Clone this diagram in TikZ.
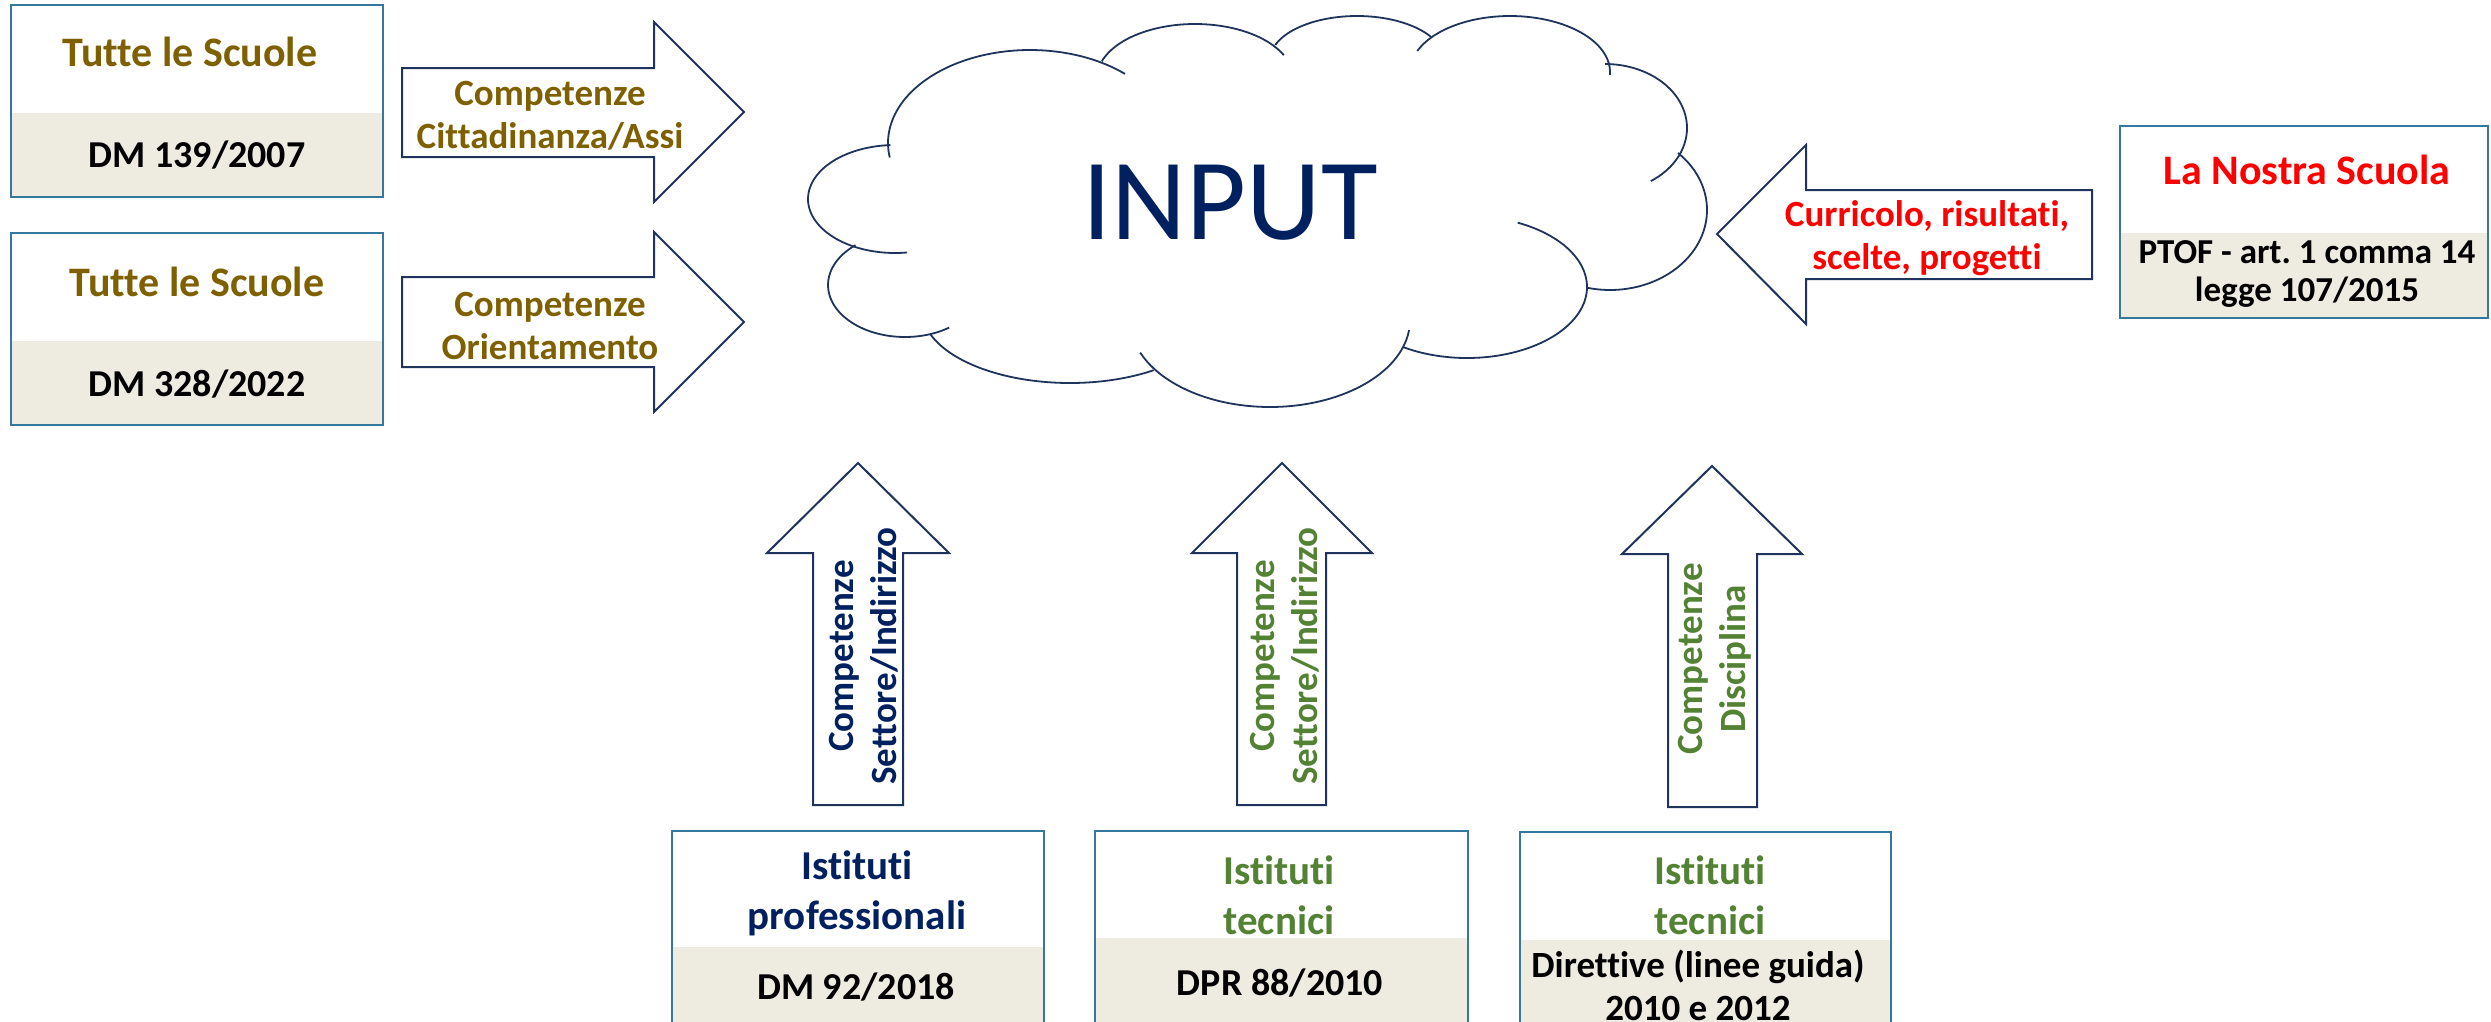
\documentclass[tikz,border=0pt]{standalone}
\usepackage{fontspec}
\setmainfont{Carlito}[Ligatures=NoCommon]
\usepackage{tikz}
\frenchspacing

\definecolor{olivetxt}{RGB}{127,96,0}
\definecolor{navytxt}{RGB}{0,32,96}
\definecolor{greentxt}{RGB}{84,130,53}
\definecolor{redtxt}{RGB}{255,0,0}
\definecolor{arrownavy}{RGB}{31,52,92}
\definecolor{boxblue}{RGB}{52,120,160}
\definecolor{bargray}{RGB}{238,236,225}

\tikzset{
  boxline/.style={draw=boxblue, line width=2pt},
  blockarrow/.style={draw=arrownavy, line width=2pt, fill=white, line join=miter},
  cloudline/.style={draw=arrownavy, line width=1.8pt},
  lbl/.style={font=\bfseries\fontsize{37}{43}\selectfont, align=center, inner sep=0pt},
  lawtxt/.style={font=\bfseries\fontsize{38}{43}\selectfont, align=center, inner sep=0pt},
  head/.style={font=\bfseries\fontsize{42}{50}\selectfont, align=center, inner sep=0pt},
  inst/.style={font=\bfseries\fontsize{41}{50}\selectfont, align=center, inner sep=0pt},
  small/.style={font=\bfseries\fontsize{35}{38}\selectfont, align=center, inner sep=0pt}
}

% box with grey lower band
\newcommand{\schoolbox}[5]{%
  \fill[bargray] (#1,#4) rectangle (#3,#5);
  \draw[boxline] (#1,#2) rectangle (#3,#5);}
% one puff of the cloud: centre, radii, angles
\newcommand{\puff}[6]{%
  \draw[cloudline] plot[domain=#5:#6, samples=40, smooth, variable=\t]
    ({#1+#3*cos(\t)},{#2+#4*sin(\t)});}

\begin{document}
\begin{tikzpicture}[x=1pt,y=-1pt]
  \clip (0,0) rectangle (2491,1021);
  \fill[white] (0,0) rectangle (2491,1021);

  % left boxes
  \schoolbox{11}{5}{383}{113}{197}
  \node[head, olivetxt] (tutte1) at (190,52) {Tutte le Scuole};
  \node[lawtxt] (dm139) at (197,155) {DM 139/2007};
  \schoolbox{11}{233}{383}{341}{425}
  \node[head, olivetxt] (tutte2) at (197,282) {Tutte le Scuole};
  \node[lawtxt] (dm328) at (197,384) {DM 328/2022};

  % right arrows
  \draw[blockarrow] (402,68) -- (654,68) -- (654,22) -- (744,112) -- (654,202) -- (654,157) -- (402,157) -- cycle;
  \node[lbl, olivetxt] (cittad) at (550,116) {Competenze\\Cittadinanza/Assi};
  \draw[blockarrow] (402,277) -- (654,277) -- (654,232) -- (744,322) -- (654,412) -- (654,367) -- (402,367) -- cycle;
  \node[lbl, olivetxt] (orient) at (550,326) {Competenze\\Orientamento};

  % cloud
  \puff{895}{199}{87}{54}{82}{267}
  \puff{1030}{143}{142}{93}{171}{312}
  \puff{1195}{78}{98}{54}{198}{335}
  \puff{1357}{60}{87}{44}{200}{328}
  \puff{1510}{72}{100}{56}{202}{363}
  \puff{1605}{128}{82}{64}{-90}{56}
  \puff{1610}{210}{97}{80}{-45.5}{104}
  \puff{1467}{287}{120}{71}{-65}{122}
  \puff{1270}{320}{140}{87}{6.6}{158}
  \puff{1070}{310}{148}{73}{55.6}{160.8}
  \puff{905}{285}{77}{52}{55}{230}
  \node[font=\fontsize{116}{130}\selectfont, text=navytxt, inner sep=0pt] (input) at (1230,203) {INPUT};

  % right side
  \draw[blockarrow] (2092,190) -- (1806,190) -- (1806,145) -- (1717,234) -- (1806,324) -- (1806,279) -- (2092,279) -- cycle;
  \node[lbl, redtxt] (curric) at (1927,238) {Curricolo, risultati,\\scelte, progetti};
  \schoolbox{2120}{126}{2488}{233}{318}
  \node[font=\bfseries\fontsize{42}{48}\selectfont, text=redtxt, inner sep=0pt] (nostra) at (2307,170) {La Nostra Scuola};
  \node[small] (ptof) at (2307,274) {PTOF - art. 1 comma 14\\legge 107/2015};

  % up arrows
  \draw[blockarrow] (813,805) -- (813,553) -- (767,553) -- (858,463) -- (949,553) -- (903,553) -- (903,805) -- cycle;
  \node[lbl, navytxt, rotate=90] (settA) at (864,656) {Competenze\\Settore/Indirizzo};
  \draw[blockarrow] (1237,805) -- (1237,553) -- (1192,553) -- (1282,463) -- (1372,553) -- (1326,553) -- (1326,805) -- cycle;
  \node[lbl, greentxt, rotate=90] (settB) at (1285,656) {Competenze\\Settore/Indirizzo};
  \draw[blockarrow] (1668,807) -- (1668,554) -- (1622,554) -- (1712,466) -- (1802,554) -- (1757,554) -- (1757,807) -- cycle;
  \node[lbl, greentxt, rotate=90] (discip) at (1715,659) {Competenze\\Disciplina};

  % bottom boxes
  \schoolbox{672}{831}{1044}{947}{1040}
  \node[inst, navytxt] (prof) at (857,893) {Istituti\\professionali};
  \node[lawtxt] (dm92) at (856,987) {DM 92/2018};
  \schoolbox{1095}{831}{1468}{938}{1040}
  \node[inst, greentxt] (tecB) at (1279,895) {Istituti\\tecnici};
  \node[lawtxt] (dpr) at (1280,983) {DPR 88/2010};
  \schoolbox{1520}{832}{1891}{940}{1040}
  \node[inst, greentxt] (tecC) at (1710,895) {Istituti\\tecnici};
  \node[lbl] (dirett) at (1698,985) {Direttive (linee guida)\\2010 e 2012};
\end{tikzpicture}
\end{document}
